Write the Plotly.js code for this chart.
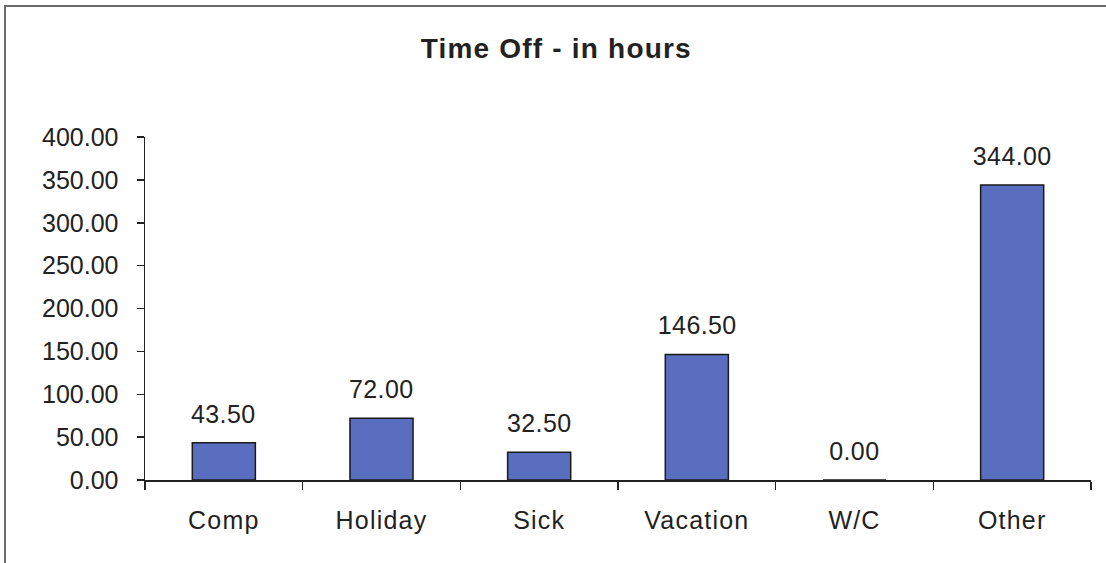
<!DOCTYPE html>
<html>
<head>
<meta charset="utf-8">
<script src="https://cdn.plot.ly/plotly-3.0.1.min.js"></script>
<style>
  html, body { margin: 0; padding: 0; background: #fff; overflow: hidden; }
  #wrap { position: relative; width: 1106px; height: 563px; }
  #chart { width: 1106px; height: 563px; }
  #frame { position: absolute; left: 4px; top: 5px; width: 1120px; height: 580px;
           border: 2px solid #6a6a6a; pointer-events: none; box-sizing: border-box; }
  #chart .xtick text { letter-spacing: 1.2px; }
  #chart .gtitle { letter-spacing: 1.2px; }
  #chart .annotation-text { letter-spacing: 0.4px; }
</style>
</head>
<body>
<div id="wrap">
  <div id="chart"></div>
  <div id="frame"></div>
</div>
<script>
const categories = ["Comp", "Holiday", "Sick", "Vacation", "W/C", "Other"];
const hours = [43.5, 72.0, 32.5, 146.5, 0.0, 344.0];
const yTicks = [0, 50, 100, 150, 200, 250, 300, 350, 400];

const FONT = "Liberation Sans, Arial, sans-serif";

const trace = {
  type: "bar",
  x: categories,
  y: hours,
  width: 0.4,
  marker: { color: "#5a6ebf", line: { color: "#1a1a1a", width: 1.5 } },
  hoverinfo: "skip"
};

const valueLabels = categories.map((c, i) => ({
  x: c, y: hours[i], xref: "x", yref: "y",
  text: hours[i].toFixed(2),
  showarrow: false, yanchor: "bottom", yshift: 13,
  font: { family: FONT, size: 25, color: "#222" }
}));

const layout = {
  width: 1106, height: 563,
  margin: { l: 145, r: 15, t: 137, b: 83 },
  paper_bgcolor: "#fff", plot_bgcolor: "#fff",
  showlegend: false,
  font: { family: FONT, color: "#222", size: 25 },
  title: { text: "<b>Time Off - in hours</b>", x: 0.503, xref: "container", xanchor: "center",
           y: 0.915, yanchor: "middle",
           font: { family: FONT, size: 28, color: "#222" } },
  xaxis: {
    type: "category",
    showgrid: false, zeroline: false,
    showline: true, linecolor: "#222", linewidth: 1.5,
    ticks: "outside", tickson: "boundaries", ticklen: 8, tickcolor: "#222", tickwidth: 1.5,
    ticklabelstandoff: 17,
    tickfont: { size: 25, color: "#222" }
  },
  yaxis: {
    range: [0, 400],
    tickvals: yTicks, tickformat: ".2f",
    showgrid: false, zeroline: false,
    showline: true, linecolor: "#222", linewidth: 1.5,
    ticks: "outside", ticklen: 7, tickcolor: "#222", tickwidth: 1.5,
    ticklabelstandoff: 13,
    tickfont: { size: 25, color: "#222" }
  },
  annotations: valueLabels,
  bargap: 0.6
};

Plotly.newPlot("chart", [trace], layout, { displayModeBar: false, staticPlot: true });
</script>
</body>
</html>
